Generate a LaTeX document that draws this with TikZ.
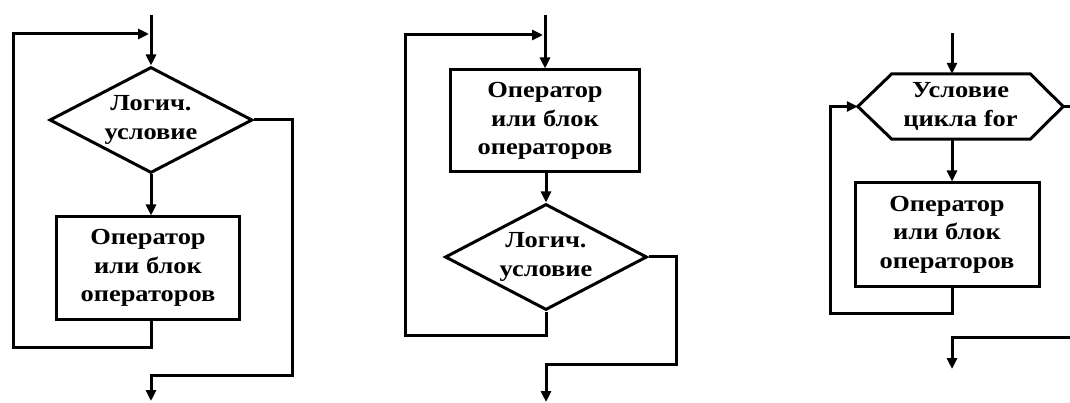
\documentclass[tikz,border=0pt]{standalone}
\usepackage{fontspec}
\setmainfont{Liberation Serif}[FakeStretch=1.15]
\usetikzlibrary{arrows.meta,shapes.geometric}
\begin{document}
\begin{tikzpicture}[x=1pt,y=-1pt,
  flow/.style={line width=3pt},
  arr/.style={flow,-{Triangle[length=11pt,width=10pt]}},
  txt/.style={font=\bfseries\fontsize{23}{28.5}\selectfont,align=center,inner sep=0pt},
  blk/.style={txt,draw,line width=3pt,rectangle},
  dec/.style={txt,draw,line width=3pt,diamond,aspect=2}]
\useasboundingbox (0,0) rectangle (1070,403);
% ---------- diagram 1: while ----------
\coordinate (in1) at (151,15);
\node[dec,minimum width=203pt,minimum height=106pt] (d1) at (151,120) {Логич.\\условие};
\node[blk,minimum width=183pt,minimum height=102pt] (b1) at (148,268) {Оператор\\или блок\\операторов};
\coordinate (l1a) at (13,347);
\coordinate (l1b) at (149,34);
\coordinate (e1a) at (292,375);
\coordinate (out1) at (151,401);
\draw[arr] (in1) -- (d1.north);
\draw[arr] (d1.south) -- (d1.south |- b1.north);
\draw[arr] (b1.south -| in1) |- (l1a) |- (l1b);
\draw[arr] (d1.east) -| (e1a) -| (out1);
% ---------- diagram 2: do-while ----------
\coordinate (in2) at (545,15);
\node[blk,minimum width=189pt,minimum height=102pt] (b2) at (545,121) {Оператор\\или блок\\операторов};
\node[dec,minimum width=202pt,minimum height=106pt] (d2) at (546,257) {Логич.\\условие};
\coordinate (l2a) at (405,335);
\coordinate (l2b) at (543,35);
\coordinate (e2a) at (676,364);
\coordinate (out2) at (546,402);
\draw[arr] (in2) -- (in2 |- b2.north);
\draw[arr] (b2.south -| d2.north) -- (d2.north);
\draw[arr] (d2.south) |- (l2a) |- (l2b);
\draw[arr] (d2.east) -| (e2a) -| (out2);
% ---------- diagram 3: for ----------
\coordinate (in3) at (952,33);
\node[txt,minimum width=205pt,minimum height=65pt] (h3) at (960.5,106.5) {Условие\\цикла for};
\draw[flow,line join=miter] (h3.west) -- ([xshift=34pt]h3.north west) -- ([xshift=-33pt]h3.north east)
  -- (h3.east) -- ([xshift=-33pt]h3.south east) -- ([xshift=34pt]h3.south west) -- cycle;
\node[blk,minimum width=184pt,minimum height=103pt] (b3) at (947,234.5) {Оператор\\или блок\\операторов};
\coordinate (l3a) at (830,313);
\coordinate (r3) at (1071,106.5);
\coordinate (x3) at (1071,337);
\coordinate (out3) at (952,369);
\draw[arr] (in3) -- (in3 |- h3.north);
\draw[arr] (in3 |- h3.south) -- (in3 |- b3.north);
\draw[arr] (in3 |- b3.south) |- (l3a) |- (h3.west);
\draw[flow] (h3.east) -- (r3);
\draw[arr] (x3) -| (out3);
\end{tikzpicture}
\end{document}
